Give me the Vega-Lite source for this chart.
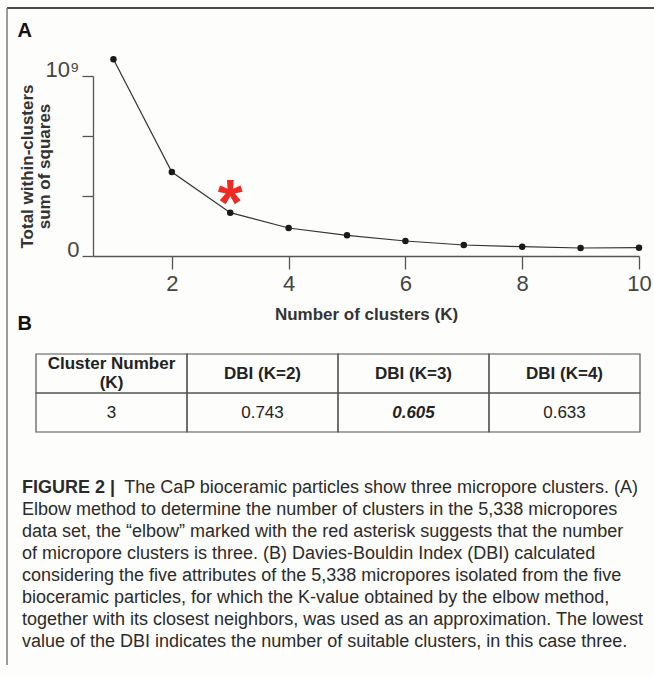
{
  "$schema": "https://vega.github.io/schema/vega-lite/v6.json",
  "width": 647,
  "height": 669,
  "autosize": {"type": "none"},
  "padding": {"left": 7, "top": 8, "right": 0, "bottom": 0},
  "background": "#fdfdfb",
  "config": {
    "font": "Liberation Sans",
    "view": {"stroke": null, "fill": null},
    "axis": {"grid": false}
  },
  "datasets": {
    "elbow": [
      {"k": 1, "wss": 1093000000},
      {"k": 2, "wss": 466700000},
      {"k": 3, "wss": 240600000},
      {"k": 4, "wss": 155600000},
      {"k": 5, "wss": 115000000},
      {"k": 6, "wss": 83300000},
      {"k": 7, "wss": 61100000},
      {"k": 8, "wss": 51700000},
      {"k": 9, "wss": 44400000},
      {"k": 10, "wss": 46100000}
    ],
    "dbi": [
      {"row": "header", "col": 1, "text": "Cluster Number\n(K)"},
      {"row": "header", "col": 2, "text": "DBI (K=2)"},
      {"row": "header", "col": 3, "text": "DBI (K=3)"},
      {"row": "header", "col": 4, "text": "DBI (K=4)"},
      {"row": "values", "col": 1, "text": "3"},
      {"row": "values", "col": 2, "text": "0.743"},
      {"row": "values", "col": 3, "text": "0.605"},
      {"row": "values", "col": 4, "text": "0.633"}
    ],
    "caption": [
      {"line": 1, "part": "lead", "text": "FIGURE 2 |"},
      {"line": 1, "part": "tail", "text": "The CaP bioceramic particles show three micropore clusters. (A)"},
      {"line": 2, "part": "body", "text": "Elbow method to determine the number of clusters in the 5,338 micropores"},
      {"line": 3, "part": "body", "text": "data set, the “elbow” marked with the red asterisk suggests that the number"},
      {"line": 4, "part": "body", "text": "of micropore clusters is three. (B) Davies-Bouldin Index (DBI) calculated"},
      {"line": 5, "part": "body", "text": "considering the five attributes of the 5,338 micropores isolated from the five"},
      {"line": 6, "part": "body", "text": "bioceramic particles, for which the K-value obtained by the elbow method,"},
      {"line": 7, "part": "body", "text": "together with its closest neighbors, was used as an approximation. The lowest"},
      {"line": 8, "part": "body", "text": "value of the DBI indicates the number of suitable clusters, in this case three."}
    ],
    "panels": [{"panel": "A"}, {"panel": "B"}],
    "frame": [{"edge": "top"}, {"edge": "left"}]
  },
  "layer": [
    {
      "data": {"name": "frame"},
      "encoding": {
        "x": {"datum": 0, "type": "quantitative", "scale": {"domain": [0, 1], "range": [0, 647]}, "axis": null},
        "y": {"datum": 0, "type": "quantitative", "scale": {"domain": [0, 1], "range": [0, 657]}, "axis": null}
      },
      "layer": [
        {
          "transform": [{"filter": "datum.edge == 'top'"}],
          "mark": {"type": "rule", "color": "#4a4a4a", "strokeWidth": 2},
          "encoding": {"x2": {"datum": 1}}
        },
        {
          "transform": [{"filter": "datum.edge == 'left'"}],
          "mark": {"type": "rule", "color": "#7a7a7a", "strokeWidth": 1.5},
          "encoding": {"y2": {"datum": 1}}
        }
      ]
    },
    {
      "data": {"name": "elbow"},
      "encoding": {
        "x": {
          "field": "k", "type": "quantitative",
          "scale": {"domain": [0.65, 10], "range": [86, 632], "nice": false, "zero": false},
          "axis": {
            "values": [2, 4, 6, 8, 10], "offset": -421, "tickSize": 13, "labelPadding": 4,
            "labelFontSize": 22, "labelColor": "#444", "labelFlush": false,
            "title": "Number of clusters (K)", "titleFontSize": 17, "titleFontWeight": "bold",
            "titleColor": "#333", "titlePadding": 12,
            "domainColor": "#555", "tickColor": "#555", "domainWidth": 1.3, "tickWidth": 1.3
          }
        },
        "y": {
          "field": "wss", "type": "quantitative",
          "scale": {"domain": [0, 1000000000], "range": [248, 68], "nice": false},
          "axis": {
            "values": [0, 333333333, 666666667, 1000000000],
            "labelExpr": "datum.value == 0 ? '0' : (datum.value >= 999999999 ? '10⁹' : '')",
            "offset": -86, "tickSize": 11, "labelPadding": 3, "labelFontSize": 22,
            "labelBaseline": "alphabetic", "labelColor": "#444", "labelFlush": false,
            "title": ["Total within-clusters", "sum of squares"], "titleFontSize": 17,
            "titleFontWeight": "bold", "titleColor": "#333", "titlePadding": -8, "titleLineHeight": 17,
            "domainColor": "#555", "tickColor": "#555", "domainWidth": 1.3, "tickWidth": 1.3
          }
        }
      },
      "layer": [
        {"mark": {"type": "line", "color": "#333", "strokeWidth": 1.2}},
        {"mark": {"type": "point", "filled": true, "size": 42, "color": "#1a1a1a", "opacity": 1}},
        {
          "transform": [{"filter": "datum.k == 3"}],
          "mark": {"type": "text", "text": "*", "fontWeight": "bold", "fontSize": 64, "color": "#ee2a24", "baseline": "middle", "dy": -7}
        }
      ]
    },
    {
      "data": {"name": "dbi"},
      "encoding": {
        "x": {"field": "col", "type": "ordinal", "scale": {"type": "band", "range": [29, 633], "paddingInner": 0, "paddingOuter": 0}, "axis": null},
        "y": {"field": "row", "type": "nominal", "scale": {"type": "band", "domain": ["header", "values"], "range": [346, 424], "paddingInner": 0, "paddingOuter": 0}, "axis": null}
      },
      "layer": [
        {"mark": {"type": "rect", "fill": "transparent", "stroke": "#555", "strokeWidth": 1.2}},
        {
          "transform": [{"filter": "datum.row == 'header' && datum.col == 1"}],
          "mark": {"type": "text", "fontSize": 17, "fontWeight": "bold", "lineBreak": "\n", "lineHeight": 19, "dy": -9.5, "color": "#222"},
          "encoding": {"text": {"field": "text"}}
        },
        {
          "transform": [{"filter": "datum.row == 'header' && datum.col != 1"}],
          "mark": {"type": "text", "fontSize": 17, "fontWeight": "bold", "color": "#222"},
          "encoding": {"text": {"field": "text"}}
        },
        {
          "transform": [{"filter": "datum.row == 'values' && datum.col != 3"}],
          "mark": {"type": "text", "fontSize": 17, "color": "#222"},
          "encoding": {"text": {"field": "text"}}
        },
        {
          "transform": [{"filter": "datum.row == 'values' && datum.col == 3"}],
          "mark": {"type": "text", "fontSize": 17, "fontWeight": "bold", "fontStyle": "italic", "color": "#222"},
          "encoding": {"text": {"field": "text"}}
        }
      ]
    },
    {
      "data": {"name": "caption"},
      "encoding": {
        "y": {"field": "line", "type": "ordinal", "scale": {"type": "point", "range": [485, 639], "padding": 0}, "axis": null},
        "text": {"field": "text"}
      },
      "layer": [
        {
          "transform": [{"filter": "datum.part == 'body'"}],
          "mark": {"type": "text", "align": "left", "baseline": "alphabetic", "fontSize": 18, "color": "#2b2b2b"},
          "encoding": {"x": {"datum": 0, "type": "quantitative", "scale": {"domain": [0, 1], "range": [15, 631]}, "axis": null}}
        },
        {
          "transform": [{"filter": "datum.part == 'lead'"}],
          "mark": {"type": "text", "align": "left", "baseline": "alphabetic", "fontSize": 18, "fontWeight": "bold", "color": "#2b2b2b"},
          "encoding": {"x": {"datum": 0, "type": "quantitative", "scale": {"domain": [0, 1], "range": [15, 631]}, "axis": null}}
        },
        {
          "transform": [{"filter": "datum.part == 'tail'"}],
          "mark": {"type": "text", "align": "right", "baseline": "alphabetic", "fontSize": 18, "color": "#2b2b2b"},
          "encoding": {"x": {"datum": 1, "type": "quantitative", "scale": {"domain": [0, 1], "range": [15, 631]}, "axis": null}}
        }
      ]
    },
    {
      "data": {"name": "panels"},
      "mark": {"type": "text", "align": "left", "baseline": "alphabetic", "fontSize": 20, "fontWeight": "bold", "color": "#111"},
      "encoding": {
        "x": {"field": "panel", "type": "nominal", "scale": {"type": "point", "domain": ["A", "B"], "range": [10.5, 10.5], "padding": 0}, "axis": null},
        "y": {"field": "panel", "type": "nominal", "scale": {"type": "point", "domain": ["A", "B"], "range": [29, 322], "padding": 0}, "axis": null},
        "text": {"field": "panel"}
      }
    }
  ],
  "resolve": {"scale": {"x": "independent", "y": "independent"}}
}
